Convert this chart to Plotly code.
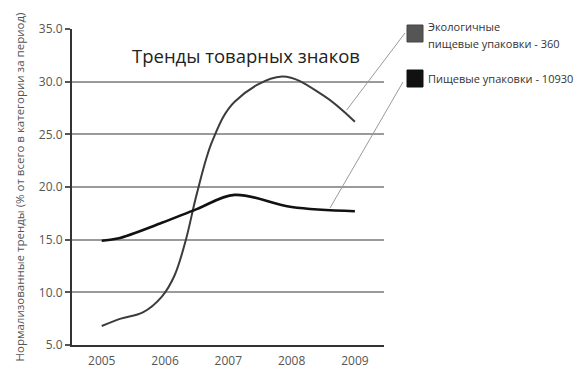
import plotly.graph_objects as go

# Data (fractional years -> normalised trend %)
eco_years = [2005.0, 2005.3, 2005.65, 2005.95, 2006.15, 2006.33, 2006.5, 2006.75, 2007.1, 2007.85, 2008.5, 2009.0]
eco_values = [6.8, 7.5, 8.1, 9.6, 11.6, 15.0, 19.3, 24.4, 28.1, 30.5, 28.7, 26.2]

food_years = [2005.0, 2005.25, 2005.95, 2006.5, 2007.1, 2008.0, 2009.0]
food_values = [14.9, 15.1, 16.6, 17.9, 19.25, 18.1, 17.7]

year_ticks = [2005, 2006, 2007, 2008, 2009]
year_labels = ["2005", "2006", "2007", "2008", "2009"]

title_text = "Тренды товарных знаков"
y_title = "Нормализованные тренды (% от всего в категории за период)"
eco_label_1 = "Экологичные"
eco_label_2 = "пищевые упаковки - 360"
food_label = "Пищевые упаковки - 10930"

FONT = "Open Sans"

fig = go.Figure()
fig.add_trace(go.Scatter(x=eco_years, y=eco_values, mode="lines",
                         line=dict(color="#3c3c3c", width=2, shape="spline", smoothing=1.0),
                         showlegend=False, hoverinfo="skip"))
fig.add_trace(go.Scatter(x=food_years, y=food_values, mode="lines",
                         line=dict(color="#111111", width=2.6, shape="spline", smoothing=1.0),
                         showlegend=False, hoverinfo="skip"))

OFF = 8  # browser body margin
PAGE_W, PAGE_H = 585, 376
W, H = PAGE_W - OFF, PAGE_H - OFF
# plot area in page pixels
PL, PR, PT, PB = 72, 384, 29, 345
L, T = PL - OFF, PT - OFF
R = W - (PR - OFF)
B = H - (PB - OFF)
pw, ph = PR - PL, PB - PT

def px(xp):
    return (xp - PL) / pw

def py(yp):
    return (PB - yp) / ph

shapes = [
    # leader lines
    dict(type="line", xref="paper", yref="paper", x0=px(346.7), y0=py(110), x1=px(405), y1=py(33),
         line=dict(color="#9a9a9a", width=1)),
    dict(type="line", xref="paper", yref="paper", x0=px(330), y0=py(208), x1=px(403), y1=py(82),
         line=dict(color="#9a9a9a", width=1)),
    # legend squares
    dict(type="rect", xref="paper", yref="paper", x0=px(407), x1=px(423), y0=py(42), y1=py(25),
         fillcolor="#555555", line=dict(color="#444444", width=1)),
    dict(type="rect", xref="paper", yref="paper", x0=px(407), x1=px(423), y0=py(87), y1=py(70),
         fillcolor="#111111", line=dict(color="#111111", width=1)),
]

annotations = [
    dict(text=title_text, xref="paper", yref="paper", x=px(246), y=py(55), showarrow=False,
         xanchor="center", yanchor="middle", font=dict(family=FONT, size=18.5, color="#222222")),
    dict(text=eco_label_1, xref="paper", yref="paper", x=px(426), y=py(27), showarrow=False,
         xanchor="left", yanchor="middle", font=dict(family=FONT, size=11, color="#333333")),
    dict(text=eco_label_2, xref="paper", yref="paper", x=px(426), y=py(43), showarrow=False,
         xanchor="left", yanchor="middle", font=dict(family=FONT, size=11, color="#333333")),
    dict(text=food_label, xref="paper", yref="paper", x=px(426), y=py(79), showarrow=False,
         xanchor="left", yanchor="middle", font=dict(family=FONT, size=11, color="#333333")),
]

fig.update_layout(
    width=W, height=H,
    margin=dict(l=L, r=R, t=T, b=B, autoexpand=False),
    paper_bgcolor="white", plot_bgcolor="white",
    shapes=shapes, annotations=annotations,
    font=dict(family=FONT, size=11, color="#555555"),
)
fig.update_xaxes(range=[2004.53, 2009.46], tickvals=year_ticks, ticktext=year_labels,
                 showgrid=False, zeroline=False, showline=True, linecolor="#333333", linewidth=2,
                 ticks="outside", ticklen=4, tickcolor="rgba(0,0,0,0)",
                 tickfont=dict(family=FONT, size=12, color="#555555"), automargin=False)
fig.update_yaxes(range=[5, 35], dtick=5, tickformat=".1f", showgrid=True, gridcolor="#9a9a9a",
                 gridwidth=1.5, zeroline=False, showline=True, linecolor="#333333", linewidth=2,
                 ticks="outside", ticklen=5, tickcolor="#555555", tickwidth=1.5,
                 tickfont=dict(family=FONT, size=12, color="#555555"), automargin=False,
                 title=dict(text=y_title, standoff=12, font=dict(family=FONT, size=11.5, color="#555555")))

fig.write_html("out.html")
